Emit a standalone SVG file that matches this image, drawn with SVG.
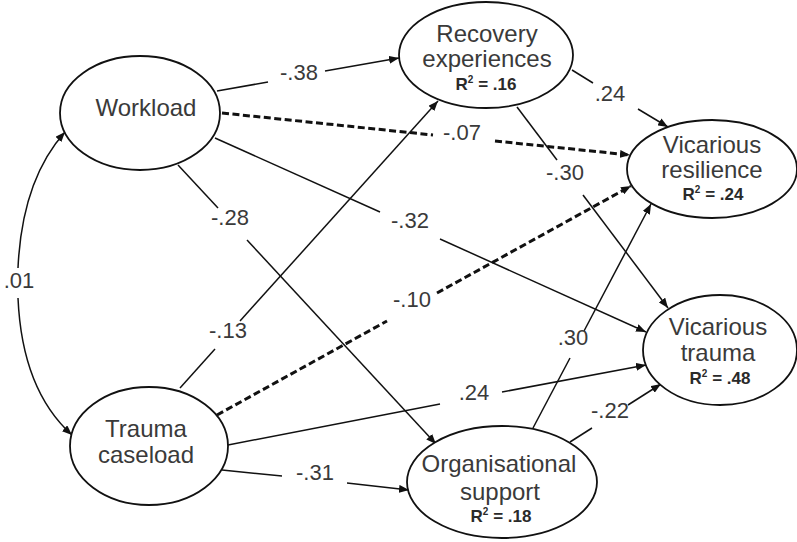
<svg xmlns="http://www.w3.org/2000/svg" width="797" height="542" viewBox="0 0 797 542">
<style>
.node ellipse{fill:#fff;stroke:#111;stroke-width:1.8}
.name{font-family:"Liberation Sans",Arial,sans-serif;font-size:24px;fill:#3a3a3a;text-anchor:middle}
.r2{font-family:"Liberation Sans",Arial,sans-serif;font-size:17px;font-weight:bold;fill:#2a2a2a;text-anchor:middle}
.sup{font-size:10px}
.coef{font-family:"Liberation Sans",Arial,sans-serif;font-size:22px;fill:#3a3a3a;text-anchor:middle}
.ln{fill:none;stroke:#111;stroke-width:1.5}
.dash{fill:none;stroke:#111;stroke-width:3;stroke-dasharray:7 3.5}
</style>
<defs>
<marker id="arr" viewBox="0 0 10 8" refX="10" refY="4" markerWidth="10" markerHeight="8" markerUnits="userSpaceOnUse" orient="auto">
<path d="M0,0 L10,4 L0,8 z" fill="#111"/>
</marker>
</defs>
<rect width="797" height="542" fill="#fff"/>
<g id="connectors">
<!-- Workload -> Recovery -.38 -->
<path class="ln" d="M217,91 L268,82"/>
<path class="ln" d="M325,71 L399,58" marker-end="url(#arr)"/>
<!-- Workload -> Vicarious resilience -.07 dashed -->
<path class="dash" d="M222,113 L433,135"/>
<path class="dash" d="M495,141 L630,155" marker-end="url(#arr)"/>
<!-- Workload -> Vicarious trauma -.32 -->
<path class="ln" d="M215,138 L380,212"/>
<path class="ln" d="M440,239 L646,332" marker-end="url(#arr)"/>
<!-- Workload -> Organisational support -.28 -->
<path class="ln" d="M178,165 L218,208"/>
<path class="ln" d="M247,240 L436,444" marker-end="url(#arr)"/>
<!-- Trauma caseload -> Recovery -.13 -->
<path class="ln" d="M180,388 L215,349"/>
<path class="ln" d="M240,321 L438,101" marker-end="url(#arr)"/>
<!-- Trauma caseload -> Vicarious resilience -.10 dashed -->
<path class="dash" d="M217,415 L387,321"/>
<path class="dash" d="M437,293 L631,186" marker-end="url(#arr)"/>
<!-- Trauma caseload -> Vicarious trauma .24 -->
<path class="ln" d="M228,445 L440,404"/>
<path class="ln" d="M502,392 L646,365" marker-end="url(#arr)"/>
<!-- Trauma caseload -> Organisational support -.31 -->
<path class="ln" d="M222,470 L282,476"/>
<path class="ln" d="M347,483 L409,490" marker-end="url(#arr)"/>
<!-- Recovery -> Vicarious resilience .24 -->
<path class="ln" d="M572,70 L593,83"/>
<path class="ln" d="M638,109 L668,127" marker-end="url(#arr)"/>
<!-- Recovery -> Vicarious trauma -.30 -->
<path class="ln" d="M517,107 L557,160"/>
<path class="ln" d="M583,195 L668,308" marker-end="url(#arr)"/>
<!-- Organisational support -> Vicarious resilience .30 -->
<path class="ln" d="M533,428 L570,358"/>
<path class="ln" d="M584,331 L651,204" marker-end="url(#arr)"/>
<!-- Organisational support -> Vicarious trauma -.22 -->
<path class="ln" d="M570,442 L592,428"/>
<path class="ln" d="M628,405 L661,384" marker-end="url(#arr)"/>
<!-- Correlation .01 -->
<path class="ln" d="M18,268 Q22,180 65,132" marker-end="url(#arr)"/>
<path class="ln" d="M18,298 Q22,390 72,435" marker-end="url(#arr)"/>
</g>
<g id="labels">
<text class="coef" x="299" y="80">-.38</text>
<text class="coef" x="462" y="140">-.07</text>
<text class="coef" x="410" y="228">-.32</text>
<text class="coef" x="230" y="225">-.28</text>
<text class="coef" x="228" y="338">-.13</text>
<text class="coef" x="412" y="307">-.10</text>
<text class="coef" x="474" y="400">.24</text>
<text class="coef" x="315" y="480">-.31</text>
<text class="coef" x="610" y="101">.24</text>
<text class="coef" x="565" y="180">-.30</text>
<text class="coef" x="573" y="345">.30</text>
<text class="coef" x="610" y="418">-.22</text>
<text class="coef" x="19" y="288">.01</text>
</g>
<g id="workload" class="node">
<ellipse cx="140" cy="113" rx="80" ry="57"/>
<text class="name" x="146" y="116">Workload</text>
</g>
<g id="recovery" class="node">
<ellipse cx="486" cy="55" rx="87" ry="53"/>
<text class="name" x="487" y="42">Recovery</text>
<text class="name" x="487" y="67">experiences</text>
<text class="r2" x="486" y="90">R<tspan class="sup" dy="-7">2</tspan><tspan dy="7"> = .16</tspan></text>
</g>
<g id="vicarious-resilience" class="node">
<ellipse cx="712" cy="169" rx="85" ry="49"/>
<text class="name" x="712" y="153">Vicarious</text>
<text class="name" x="712" y="178">resilience</text>
<text class="r2" x="713" y="200">R<tspan class="sup" dy="-7">2</tspan><tspan dy="7"> = .24</tspan></text>
</g>
<g id="trauma-caseload" class="node">
<ellipse cx="149" cy="446" rx="79" ry="59"/>
<text class="name" x="146" y="437">Trauma</text>
<text class="name" x="146" y="463">caseload</text>
</g>
<g id="vicarious-trauma" class="node">
<ellipse cx="720" cy="350" rx="77" ry="55"/>
<text class="name" x="718" y="335">Vicarious</text>
<text class="name" x="718" y="361">trauma</text>
<text class="r2" x="720" y="384">R<tspan class="sup" dy="-7">2</tspan><tspan dy="7"> = .48</tspan></text>
</g>
<g id="organisational-support" class="node">
<ellipse cx="502" cy="482" rx="95" ry="56"/>
<text class="name" x="499" y="472">Organisational</text>
<text class="name" x="500" y="500">support</text>
<text class="r2" x="501" y="522">R<tspan class="sup" dy="-7">2</tspan><tspan dy="7"> = .18</tspan></text>
</g>
</svg>
